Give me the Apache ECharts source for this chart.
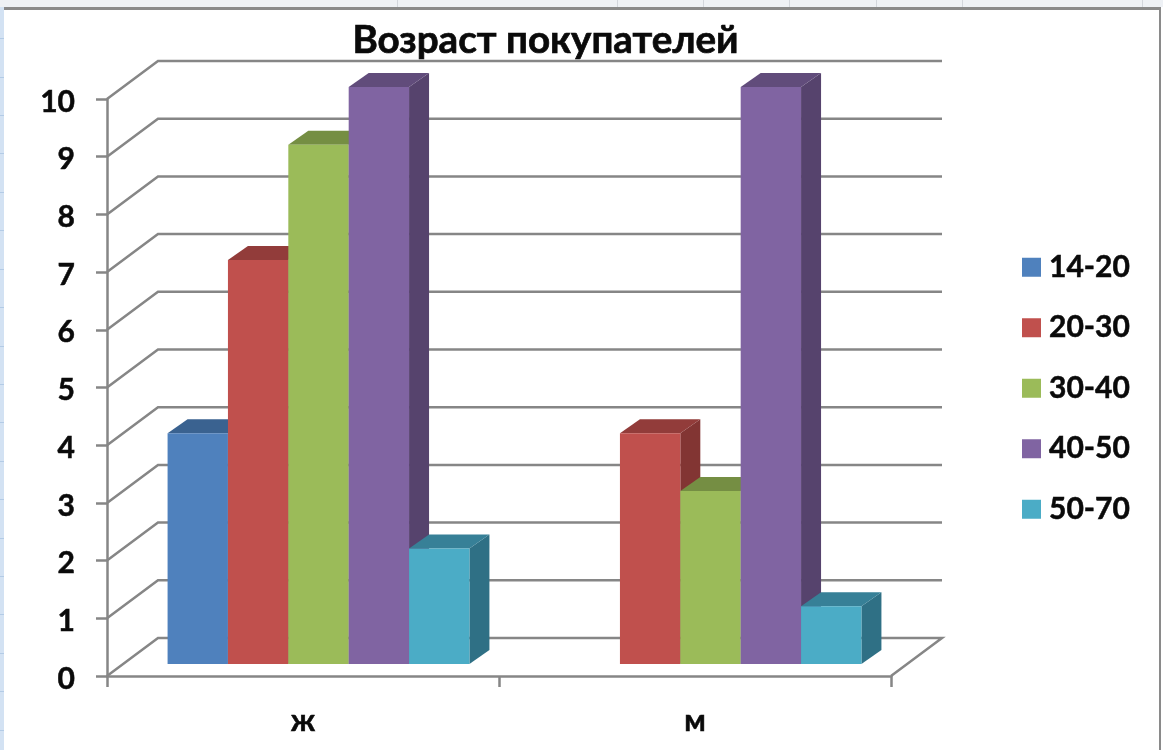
<!DOCTYPE html>
<html>
<head>
<meta charset="utf-8">
<style>html,body{margin:0;padding:0;background:#fff}#chart{width:1163px;height:750px}</style>
<script src="https://cdn.jsdelivr.net/npm/echarts@6/dist/echarts.min.js"></script>
</head>
<body>
<div id="chart"></div>
<script>
const titleText = 'Возраст покупателей';
const categories = ['ж', 'м'];
const yTicks = [0,1,2,3,4,5,6,7,8,9,10];
const age1420 = [4, null];
const age2030 = [7, 4];
const age3040 = [9, 3];
const age4050 = [10, 10];
const age5070 = [2, 1];

const seriesDefs = [
  {name:'14-20', values:age1420, front:'#4F81BD', top:'#3A6290', side:'#335780'},
  {name:'20-30', values:age2030, front:'#C0504D', top:'#923C3A', side:'#823533'},
  {name:'30-40', values:age3040, front:'#9BBB59', top:'#758E43', side:'#687E3B'},
  {name:'40-50', values:age4050, front:'#8064A2', top:'#614C7B', side:'#56436D'},
  {name:'50-70', values:age5070, front:'#4BACC6', top:'#378097', side:'#2F7085'}
];

const WALL = [51, -38];
const BAR_SHIFT = [15.5, -12];
const BAR_DEPTH = [20, -14];
const BAR_RATIO = 0.154;
const AXIS_COLOR = '#868686';
const TEXT_COLOR = '#0a0a0a';
const FONT = 'Lato, "Open Sans", "Noto Sans", sans-serif';
const heavy = {fontFamily:FONT, fontWeight:'bold', color:TEXT_COLOR, textBorderColor:TEXT_COLOR, textBorderWidth:0.5};

function poly(points, fill) {
  return {type:'polygon', shape:{points}, style:{fill, stroke:null}, silent:true};
}
function barRenderer(idx, def) {
  return function (params, api) {
    const v = api.value(1);
    if (v === null || isNaN(v)) return null;
    const cat = api.value(0);
    const top = api.coord([cat, v]);
    const bottom = api.coord([cat, 0]);
    const w = api.size([1, 0])[0] * BAR_RATIO;
    const x0 = top[0] + BAR_SHIFT[0] + (idx - 2.5) * w;
    const x1 = x0 + w;
    const yT = top[1] + BAR_SHIFT[1];
    const yB = bottom[1] + BAR_SHIFT[1];
    const dx = BAR_DEPTH[0], dy = BAR_DEPTH[1];
    return {type:'group', children:[
      poly([[x1,yT],[x1+dx,yT+dy],[x1+dx,yB+dy],[x1,yB]], def.side),
      poly([[x0,yT],[x0+dx,yT+dy],[x1+dx,yT+dy],[x1,yT]], def.top),
      poly([[x0,yT],[x1,yT],[x1,yB],[x0,yB]], def.front)
    ]};
  };
}
function wallRenderer(params, api) {
  const v = api.value(1);
  const cs = params.coordSys;
  const y = api.coord([0, v])[1];
  const xL = cs.x, xR = cs.x + cs.width;
  const pts = [[xL,y],[xL+WALL[0],y+WALL[1]],[xR+WALL[0],y+WALL[1]]];
  if (v === 0) pts.push([xR,y]);
  return {type:'polyline', shape:{points:pts}, silent:true,
    style:{fill:null, stroke:AXIS_COLOR, lineWidth:2.5}};
}

const sheetColumnLines = [397,617,703,789,876,962,1142];
const sheetRowLines = [38,77,115,153,192,230,269,307,346,384,422,461,499,538,576,614,653,691,730];
const sheetDecor = [
  ...sheetColumnLines.map(x=>({type:'rect', z:-1, shape:{x:x,y:0,width:1,height:7}, style:{fill:'#d2d6dc'}, silent:true})),
  ...sheetRowLines.map(y=>({type:'rect', z:-1, shape:{x:0,y:y,width:4,height:1}, style:{fill:'#b3cbe6'}, silent:true}))
];

const chart = echarts.init(document.getElementById('chart'), null, {renderer:'canvas'});
chart.setOption({
  animation:false,
  backgroundColor:'#fff',
  title:{text:titleText, left:545.5, top:21, textAlign:'center', padding:0,
    textStyle:Object.assign({}, heavy, {fontSize:38.6, textBorderWidth:0.7})},
  legend:{
    data:seriesDefs.map(d=>d.name), orient:'vertical', left:1022, top:252, padding:0,
    itemWidth:19, itemHeight:19, itemGap:30, icon:'rect',
    textStyle:Object.assign({}, heavy, {fontSize:30, padding:[0,0,0,3]})
  },
  grid:{left:107, right:272, top:99, bottom:74},
  xAxis:{type:'category', data:categories, boundaryGap:true,
    axisLine:{lineStyle:{color:AXIS_COLOR, width:2.5}},
    axisTick:{show:true, alignWithLabel:false, interval:0, length:11, lineStyle:{color:AXIS_COLOR, width:2.5}},
    axisLabel:Object.assign({margin:30, fontSize:30}, heavy),
    splitLine:{show:false}},
  yAxis:{type:'value', min:0, max:10, interval:1,
    axisLine:{show:true, lineStyle:{color:AXIS_COLOR, width:2.5}},
    axisTick:{show:true, length:11, lineStyle:{color:AXIS_COLOR, width:2.5}},
    axisLabel:Object.assign({margin:32, fontSize:30,
      formatter:value=>'{v|'+value+'}',
      rich:{v:Object.assign({fontSize:30, padding:[6,0,0,0]}, heavy)}}, heavy),
    splitLine:{show:false}},
  graphic:[
    {type:'rect', z:-2, shape:{x:0,y:0,width:4,height:750}, style:{fill:'#d3e2f3'}, silent:true},
    {type:'rect', z:-2, shape:{x:0,y:0,width:1163,height:7}, style:{fill:'#eef1f5'}, silent:true},
    ...sheetDecor,
    {type:'rect', z:-1, shape:{x:4,y:7,width:1157,height:3}, style:{fill:'#8a8a8a'}, silent:true},
    {type:'rect', z:-1, shape:{x:1159,y:7,width:2,height:743}, style:{fill:'#8a8a8a'}, silent:true}
  ],
  series:[
    {type:'custom', name:'сетка', z:1, renderItem:wallRenderer, data:yTicks.map(v=>[0,v]), encode:{x:0,y:1}, silent:true},
    ...seriesDefs.map((d,i)=>({
      type:'custom', name:d.name, z:5, itemStyle:{color:d.front},
      renderItem:barRenderer(i,d), encode:{x:0,y:1},
      data:d.values.map((v,c)=>[c,v])
    }))
  ]
});
</script>
</body>
</html>
